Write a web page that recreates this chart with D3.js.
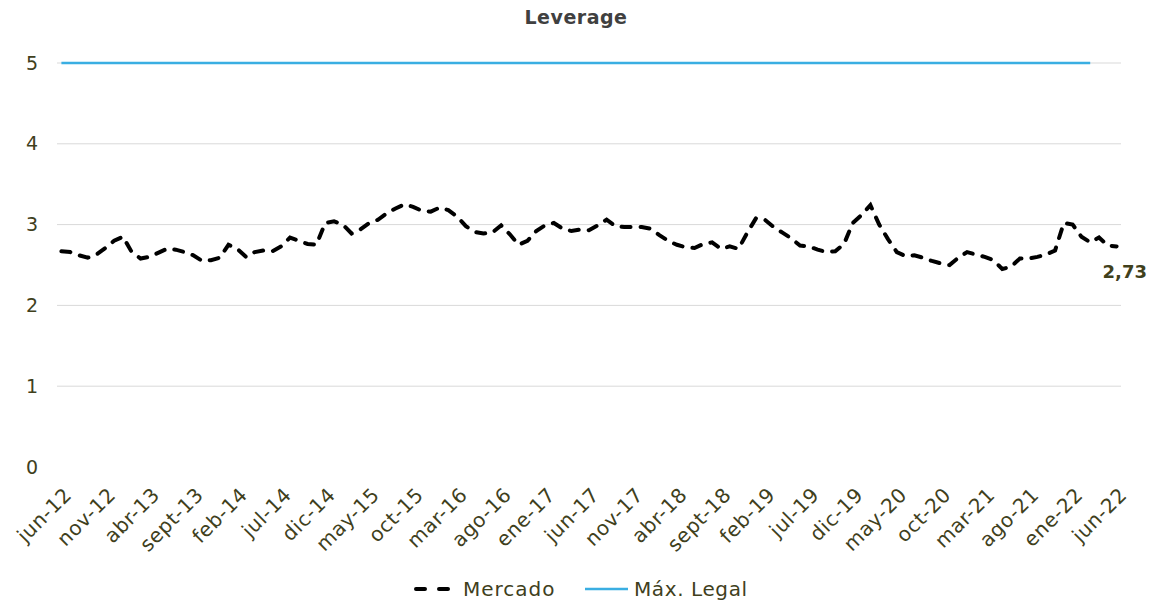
<!DOCTYPE html>
<html>
<head>
<meta charset="utf-8">
<script src="https://cdn.jsdelivr.net/npm/d3@7"></script>
<style>
  body { margin: 0; background: #fff; }
  svg { display: block; }
  text { font-family: "DejaVu Sans", sans-serif; }
</style>
</head>
<body>
<svg id="chart" width="1153" height="601"></svg>
<script>
// ---- Data ----
const monthNames = ["ene","feb","mar","abr","may","jun","jul","ago","sept","oct","nov","dic"];
// categories: monthly jun-12 .. jun-22
const categories = [];
for (let y = 2012, m = 5; y < 2022 || (y === 2022 && m <= 5); ) {
  categories.push(monthNames[m] + "-" + String(y).slice(2));
  m++; if (m === 12) { m = 0; y++; }
}
const mercado = [
  2.67,2.66,2.62,2.59,2.63,2.71,2.80,2.85,2.66,2.58,
  2.60,2.65,2.70,2.69,2.66,2.62,2.55,2.56,2.59,2.75,
  2.70,2.60,2.66,2.68,2.67,2.73,2.84,2.80,2.76,2.75,
  3.02,3.04,3.00,2.89,2.94,3.02,3.06,3.14,3.20,3.25,
  3.22,3.17,3.16,3.21,3.18,3.10,2.98,2.91,2.89,2.90,
  2.99,2.88,2.75,2.80,2.92,2.99,3.02,2.95,2.92,2.94,
  2.93,2.99,3.06,2.98,2.97,2.97,2.97,2.95,2.87,2.80,
  2.75,2.72,2.71,2.76,2.78,2.70,2.73,2.70,2.90,3.08,
  3.06,2.97,2.90,2.83,2.74,2.73,2.69,2.66,2.67,2.76,
  3.02,3.12,3.24,3.00,2.82,2.66,2.61,2.62,2.59,2.55,
  2.52,2.50,2.59,2.66,2.63,2.60,2.56,2.45,2.48,2.58,
  2.58,2.60,2.63,2.68,3.02,3.00,2.85,2.78,2.84,2.74,
  2.73
];
const maxLegal = [
  5,5,5,5,5,5,5,5,5,5, 5,5,5,5,5,5,5,5,5,5,
  5,5,5,5,5,5,5,5,5,5, 5,5,5,5,5,5,5,5,5,5,
  5,5,5,5,5,5,5,5,5,5, 5,5,5,5,5,5,5,5,5,5,
  5,5,5,5,5,5,5,5,5,5, 5,5,5,5,5,5,5,5,5,5,
  5,5,5,5,5,5,5,5,5,5, 5,5,5,5,5,5,5,5,5,5,
  5,5,5,5,5,5,5,5,5,5, 5,5,5,5,5,5,5,5
];
const yTicks = [0,1,2,3,4,5];
const xTickEvery = 5;
const lastLabel = "2,73";

// ---- Drawing ----
const svg = d3.select("#chart");
const textColor = "#40401c";
const x = d3.scalePoint().domain(categories).range([57, 1121]).padding(0.5);
const y = d3.scaleLinear().domain([0, 5]).range([467, 63]);

svg.append("text")
  .attr("x", 576).attr("y", 24)
  .attr("text-anchor", "middle")
  .attr("font-size", 19).attr("font-weight", "bold")
  .attr("letter-spacing", 0.5)
  .attr("fill", "#404040")
  .text("Leverage");

// gridlines
svg.append("g").selectAll("line")
  .data(yTicks.filter(d => d > 0))
  .join("line")
  .attr("x1", 57).attr("x2", 1121)
  .attr("y1", d => y(d)).attr("y2", d => y(d))
  .attr("stroke", "#d9d9d9").attr("stroke-width", 1);

// y axis labels
const yAxis = d3.axisLeft(y).tickValues(yTicks).tickSize(0).tickPadding(0).tickFormat(d3.format("d"));
const gy = svg.append("g").attr("transform", "translate(38,0)").call(yAxis);
gy.select(".domain").remove();
gy.selectAll("text").attr("font-size", 19).attr("fill", textColor)
  .attr("font-family", "DejaVu Sans, sans-serif");

// x axis labels
const xAxis = d3.axisBottom(x)
  .tickValues(categories.filter((d, i) => i % xTickEvery === 0))
  .tickSize(0).tickPadding(0);
const gx = svg.append("g").attr("transform", "translate(0,476)").call(xAxis);
gx.select(".domain").remove();
gx.selectAll("text")
  .attr("font-size", 20).attr("fill", textColor)
  .attr("font-family", "DejaVu Sans, sans-serif")
  .attr("letter-spacing", 0.6)
  .attr("text-anchor", "end")
  .attr("dy", "0")
  .attr("transform", "translate(11,20) rotate(-45)");

// Max legal line
svg.append("path")
  .datum(maxLegal)
  .attr("fill", "none")
  .attr("stroke", "#3aaee2")
  .attr("stroke-width", 2.5)
  .attr("d", d3.line().x((d, i) => x(categories[i])).y(d => y(d)));

// Mercado line
svg.append("path")
  .datum(mercado)
  .attr("fill", "none")
  .attr("stroke", "#000")
  .attr("stroke-width", 4)
  .attr("stroke-linecap", "round")
  .attr("stroke-dasharray", "9,10")
  .attr("d", d3.line().x((d, i) => x(categories[i])).y(d => y(d)));

// last value label
svg.append("text")
  .attr("x", x(categories[categories.length - 1]) - 14)
  .attr("y", 278)
  .attr("font-size", 18).attr("font-weight", "bold")
  .attr("fill", textColor)
  .text(lastLabel);

// legend
const lg = svg.append("g");
lg.append("line").attr("x1", 416).attr("x2", 457).attr("y1", 589).attr("y2", 589)
  .attr("stroke", "#000").attr("stroke-width", 4).attr("stroke-linecap", "round")
  .attr("stroke-dasharray", "9,14");
lg.append("text").attr("x", 463).attr("y", 596).attr("font-size", 20)
  .attr("letter-spacing", 1).attr("fill", textColor).text("Mercado");
lg.append("line").attr("x1", 585).attr("x2", 628).attr("y1", 589).attr("y2", 589)
  .attr("stroke", "#3aaee2").attr("stroke-width", 2.5);
lg.append("text").attr("x", 634).attr("y", 596).attr("font-size", 20)
  .attr("letter-spacing", 0.6).attr("fill", textColor).text("Máx. Legal");
</script>
</body>
</html>
